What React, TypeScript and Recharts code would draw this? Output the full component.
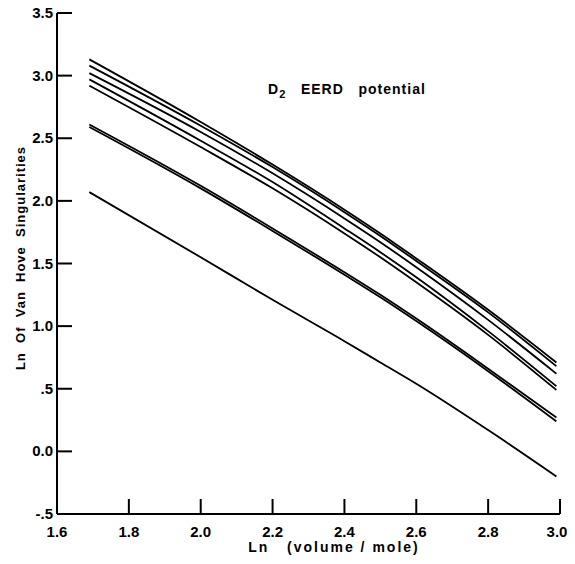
import React from 'react';
import { LineChart, Line, XAxis, YAxis } from 'recharts';

const xValues = [1.69, 2.0, 2.2, 2.4, 2.5, 2.6, 2.8, 2.99];
const curve1 = [3.13, 2.63, 2.29, 1.93, 1.74, 1.54, 1.13, 0.71];
const curve2 = [3.08, 2.6, 2.27, 1.91, 1.72, 1.52, 1.11, 0.68];
const curve3 = [3.02, 2.55, 2.22, 1.86, 1.67, 1.47, 1.05, 0.62];
const curve4 = [2.97, 2.48, 2.15, 1.78, 1.59, 1.39, 0.96, 0.52];
const curve5 = [2.92, 2.43, 2.1, 1.74, 1.55, 1.35, 0.93, 0.49];
const curve6 = [2.61, 2.12, 1.78, 1.43, 1.25, 1.06, 0.66, 0.27];
const curve7 = [2.59, 2.1, 1.76, 1.41, 1.23, 1.04, 0.64, 0.24];
const curve8 = [2.07, 1.55, 1.21, 0.88, 0.71, 0.54, 0.17, -0.2];

const xTicks = [1.6, 1.8, 2.0, 2.2, 2.4, 2.6, 2.8, 3.0];
const xTickLabels = ['1.6', '1.8', '2.0', '2.2', '2.4', '2.6', '2.8', '3.0'];
const yTicks = [-0.5, 0, 0.5, 1.0, 1.5, 2.0, 2.5, 3.0, 3.5];
const yTickLabels = ['-.5', '0.0', '.5', '1.0', '1.5', '2.0', '2.5', '3.0', '3.5'];

const seriesKeys = ['c1', 'c2', 'c3', 'c4', 'c5', 'c6', 'c7', 'c8'];
const seriesValues = [curve1, curve2, curve3, curve4, curve5, curve6, curve7, curve8];

const data = xValues.map((x, i) => {
  const row: any = { x };
  seriesKeys.forEach((k, j) => {
    row[k] = seriesValues[j][i];
  });
  return row;
});

const FONT = '"Liberation Sans", Arial, sans-serif';
const TICK_LEN = 15;

const labelFor = (ticks: number[], labels: string[], v: number) => {
  const idx = ticks.findIndex((t) => Math.abs(t - v) < 1e-6);
  return idx >= 0 ? labels[idx] : String(v);
};

const LeftTick = (props: any) => {
  const { x, y, payload } = props;
  return (
    <g>
      <line x1={x} x2={x + TICK_LEN} y1={y} y2={y} stroke="#000" strokeWidth={2} />
      <text x={x - 4} y={y + 5} textAnchor="end" fontFamily={FONT} fontWeight="bold" fontSize={15} fill="#000">
        {labelFor(yTicks, yTickLabels, payload.value)}
      </text>
    </g>
  );
};

const RightTick = (props: any) => {
  const { x, y } = props;
  return <line x1={x} x2={x - TICK_LEN} y1={y} y2={y} stroke="#000" strokeWidth={2} />;
};

const BottomTick = (props: any) => {
  const { x, y, payload } = props;
  const isLast = Math.abs(payload.value - 3.0) < 1e-6;
  return (
    <g>
      <line x1={x} x2={x} y1={y} y2={y - TICK_LEN} stroke="#000" strokeWidth={2} />
      <text
        x={isLast ? x - 3 : x}
        y={y + 23}
        textAnchor="middle"
        fontFamily={FONT}
        fontWeight="bold"
        fontSize={15}
        fill="#000"
      >
        {labelFor(xTicks, xTickLabels, payload.value)}
      </text>
    </g>
  );
};

const TopTick = (props: any) => {
  const { x, y } = props;
  return <line x1={x} x2={x} y1={y} y2={y + TICK_LEN} stroke="#000" strokeWidth={2} />;
};

const axisLine = { stroke: '#000', strokeWidth: 2 };

export default function App() {
  return (
    <div
      style={{
        position: 'relative',
        width: 575,
        height: 564,
        margin: -8,
        background: '#fff',
        overflow: 'hidden',
      }}
    >
      <LineChart
        width={575}
        height={564}
        data={data}
        margin={{ top: 13, right: 15, bottom: 0, left: 0 }}
      >
        <XAxis
          dataKey="x"
          type="number"
          domain={[1.6, 3.0]}
          ticks={xTicks}
          allowDataOverflow
          height={50}
          tickSize={0}
          tickMargin={0}
          axisLine={axisLine}
          tickLine={false}
          tick={<BottomTick />}
          interval={0}
        />
        <XAxis
          xAxisId="top"
          orientation="top"
          dataKey="x"
          type="number"
          domain={[1.6, 3.0]}
          ticks={xTicks}
          allowDataOverflow
          height={0}
          tickSize={0}
          tickMargin={0}
          axisLine={axisLine}
          tickLine={false}
          tick={<TopTick />}
          interval={0}
        />
        <YAxis
          type="number"
          domain={[-0.5, 3.5]}
          ticks={yTicks}
          allowDataOverflow
          width={57}
          tickSize={0}
          tickMargin={0}
          axisLine={axisLine}
          tickLine={false}
          tick={<LeftTick />}
          interval={0}
        />
        <YAxis
          yAxisId="right"
          orientation="right"
          type="number"
          domain={[-0.5, 3.5]}
          ticks={yTicks}
          allowDataOverflow
          width={0}
          tickSize={0}
          tickMargin={0}
          axisLine={axisLine}
          tickLine={false}
          tick={<RightTick />}
          interval={0}
        />
        {seriesKeys.map((k) => (
          <Line
            key={k}
            dataKey={k}
            type="monotone"
            stroke="#000"
            strokeWidth={1.8}
            dot={false}
            activeDot={false}
            isAnimationActive={false}
          />
        ))}
      </LineChart>
      <svg
        width={575}
        height={564}
        style={{ position: 'absolute', left: 0, top: 0, pointerEvents: 'none' }}
      >
        <text
          x={268}
          y={94}
          fontFamily={FONT}
          fontWeight="bold"
          fontSize={14}
          letterSpacing={1}
          fill="#000"
          style={{ whiteSpace: 'pre' }}
        >
          D<tspan fontSize={11} dy={4}>2</tspan>
          <tspan dy={-4}>{'   EERD   potential'}</tspan>
        </text>
        <text
          x={334}
          y={552}
          textAnchor="middle"
          fontFamily={FONT}
          fontWeight="bold"
          fontSize={14}
          letterSpacing={2}
          fill="#000"
          style={{ whiteSpace: 'pre' }}
        >
          {'Ln   (volume / mole)'}
        </text>
        <text
          x={0}
          y={0}
          transform="translate(25 258) rotate(-90)"
          textAnchor="middle"
          fontFamily={FONT}
          fontWeight="bold"
          fontSize={13}
          letterSpacing={1}
          fill="#000"
          style={{ whiteSpace: 'pre' }}
        >
          {'Ln  Of  Van  Hove  Singularities'}
        </text>
      </svg>
    </div>
  );
}
